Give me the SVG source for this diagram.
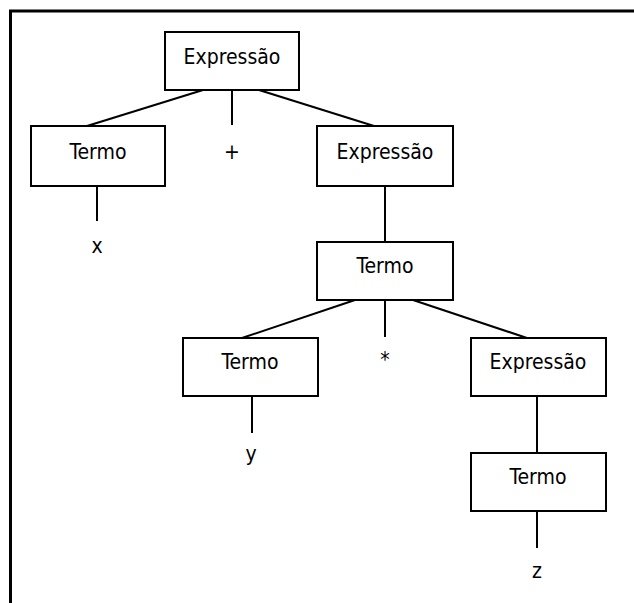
<svg xmlns="http://www.w3.org/2000/svg" width="634" height="603" viewBox="0 0 634 603">
<style>
.box{fill:#fff;stroke:#000;stroke-width:2}
.lbl{font-family:"DejaVu Sans","Liberation Sans",sans-serif;font-stretch:condensed;font-size:21px;fill:#000;text-anchor:middle}
.conn line{stroke:#000;stroke-width:2}
.frame{stroke:#000;stroke-width:3;fill:none}
</style>
<rect width="634" height="603" fill="#fff"/>
<path class="frame" d="M10.5 603 V11 H634"/>
<g class="conn" id="connectors">
<line x1="203" y1="90" x2="87" y2="126"/>
<line x1="232" y1="90" x2="232" y2="125"/>
<line x1="259" y1="90" x2="374" y2="126"/>
<line x1="97" y1="186" x2="97" y2="221"/>
<line x1="385" y1="186" x2="385" y2="242"/>
<line x1="355" y1="300" x2="242" y2="338"/>
<line x1="385" y1="300" x2="385" y2="337"/>
<line x1="413" y1="300" x2="527" y2="338"/>
<line x1="252" y1="396" x2="252" y2="433"/>
<line x1="537" y1="396" x2="537" y2="453"/>
<line x1="537" y1="511" x2="537" y2="548"/>
</g>
<g id="n1"><rect class="box" x="165" y="32" width="134" height="58"/><text class="lbl" x="232" y="64">Expressão</text></g>
<g id="n2"><rect class="box" x="31" y="126" width="134" height="60"/><text class="lbl" x="98" y="159">Termo</text></g>
<g id="n3"><text class="lbl" x="232" y="159">+</text></g>
<g id="n4"><rect class="box" x="317" y="126" width="136" height="60"/><text class="lbl" x="385" y="159">Expressão</text></g>
<g id="n5"><text class="lbl" x="97" y="253">x</text></g>
<g id="n6"><rect class="box" x="317" y="242" width="136" height="58"/><text class="lbl" x="385" y="273">Termo</text></g>
<g id="n7"><rect class="box" x="183" y="338" width="135" height="58"/><text class="lbl" x="250" y="369">Termo</text></g>
<g id="n8"><text class="lbl" x="385" y="367">*</text></g>
<g id="n9"><rect class="box" x="471" y="338" width="135" height="58"/><text class="lbl" x="538" y="369">Expressão</text></g>
<g id="n10"><text class="lbl" x="251" y="461">y</text></g>
<g id="n11"><rect class="box" x="471" y="453" width="135" height="58"/><text class="lbl" x="538" y="484">Termo</text></g>
<g id="n12"><text class="lbl" x="537" y="578">z</text></g>
</svg>
